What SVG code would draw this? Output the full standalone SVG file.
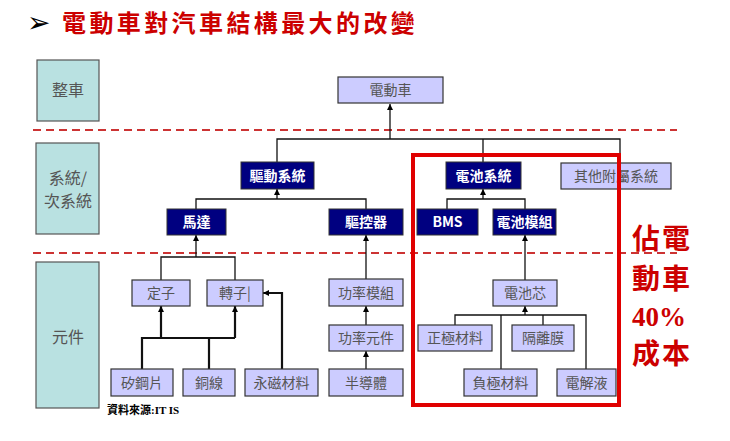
<svg xmlns="http://www.w3.org/2000/svg" width="730" height="441" viewBox="0 0 730 441">
<defs>
<marker id="ah" viewBox="0 0 10 10" refX="10" refY="5" markerWidth="6" markerHeight="6" markerUnits="userSpaceOnUse" orient="auto">
<path d="M0,0 L10,5 L0,10 Z" fill="#000"/>
</marker>
<style>
.lbl rect{fill:#b9e1e1;stroke:#555;stroke-width:1.2}
.lbl text{font-family:"Noto Sans CJK TC","Noto Sans CJK SC",sans-serif;font-size:16px;fill:#555;text-anchor:middle}
.lt rect{fill:#ccccff;stroke:#333;stroke-width:1.2}
.lt text{font-family:"Noto Sans CJK TC","Noto Sans CJK SC",sans-serif;font-size:14px;fill:#555;text-anchor:middle}
.dk rect{fill:#000080;stroke:#333;stroke-width:1}
.dk text{font-family:"Noto Sans CJK TC","Noto Sans CJK SC",sans-serif;font-size:14px;font-weight:bold;fill:#fff;text-anchor:middle}
.dash{stroke:#cc3333;stroke-width:2;stroke-dasharray:8 5;fill:none}
.c{stroke:#111;stroke-width:1.3;fill:none}
.ct{stroke:#111;stroke-width:2.2;fill:none}
.red{font-family:"Noto Sans CJK TC","Noto Sans CJK SC",sans-serif;font-weight:bold;fill:#cc0000}
</style>
</defs>
<rect width="730" height="441" fill="#fff"/>

<!-- title -->
<text x="27" y="32" font-family="DejaVu Sans, sans-serif" font-size="28" fill="#000">➢</text>
<text class="red" x="62" y="32" font-size="24" letter-spacing="3.4">電動車對汽車結構最大的改變</text>

<!-- dashed separators -->
<line class="dash" x1="33" y1="130" x2="677" y2="130"/>
<line class="dash" x1="33" y1="253" x2="677" y2="253"/>

<!-- level labels -->
<g id="lbl-zhengche" class="lbl"><rect x="37" y="60" width="62" height="61"/><text x="68" y="96">整車</text></g>
<g id="lbl-xitong" class="lbl"><rect x="36" y="143" width="63" height="91"/><text x="68" y="184" font-size="14">系統/</text><text x="68" y="207" font-size="14">次系統</text></g>
<g id="lbl-yuanjian" class="lbl"><rect x="36" y="262" width="63" height="146"/><text x="68" y="343">元件</text></g>

<!-- connectors -->
<g id="connectors">
<path class="c" d="M390,139 V104" marker-end="url(#ah)"/>
<path class="c" d="M277,162 V139 H620 V163 M483,139 V162"/>
<path class="c" d="M277,199 V189" marker-end="url(#ah)"/>
<path class="c" d="M196,209 V199 H366 V209"/>
<path class="c" d="M483,199 V189" marker-end="url(#ah)"/>
<path class="c" d="M447,209 V199 H525 V209"/>
<path class="c" d="M196,257 V235" marker-end="url(#ah)"/>
<path class="c" d="M161,280 V257 H235 V280"/>
<path class="c" d="M366,279 V235" marker-end="url(#ah)"/>
<path class="c" d="M366,325 V306" marker-end="url(#ah)"/>
<path class="c" d="M366,369 V351" marker-end="url(#ah)"/>
<path class="ct" d="M161,338 V306" marker-end="url(#ah)"/>
<path class="ct" d="M235,338 V306" marker-end="url(#ah)"/>
<path class="ct" d="M142,369 V338 H235 M209,369 V338"/>
<path class="ct" d="M282,369 V293 H263" marker-end="url(#ah)"/>
<path class="c" d="M525,280 V235" marker-end="url(#ah)"/>
<path class="c" d="M525,315 V306" marker-end="url(#ah)"/>
<path class="c" d="M455,325 V315 H586 V369 M501,315 V369 M543,315 V325"/>
</g>

<!-- nodes -->
<g id="n-ev" class="lt"><rect x="338" y="77" width="105" height="26"/><text x="390.5" y="95">電動車</text></g>
<g id="n-drive" class="dk"><rect x="241" y="162" width="73" height="27"/><text x="277.5" y="180.5">驅動系統</text></g>
<g id="n-battsys" class="dk"><rect x="446" y="162" width="75" height="27"/><text x="483.5" y="180.5">電池系統</text></g>
<g id="n-other" class="lt"><rect x="561" y="163" width="110" height="26"/><text x="616" y="181">其他附屬系統</text></g>
<g id="n-motor" class="dk"><rect x="167" y="209" width="59" height="26"/><text x="196.5" y="227">馬達</text></g>
<g id="n-ctrl" class="dk"><rect x="329" y="209" width="74" height="26"/><text x="366" y="227">驅控器</text></g>
<g id="n-bms" class="dk"><rect x="417" y="209" width="61" height="26"/><text x="447.5" y="227" font-family="Liberation Serif, serif" font-size="13">BMS</text></g>
<g id="n-module" class="dk"><rect x="493" y="209" width="63" height="26"/><text x="524.5" y="227">電池模組</text></g>

<g id="n-stator" class="lt"><rect x="132" y="280" width="58" height="26"/><text x="161" y="298">定子</text></g>
<g id="n-rotor" class="lt"><rect x="207" y="280" width="56" height="26"/><text x="235" y="298">轉子|</text></g>
<g id="n-pmod" class="lt"><rect x="329" y="279" width="74" height="27"/><text x="366" y="297.5">功率模組</text></g>
<g id="n-pdev" class="lt"><rect x="329" y="325" width="74" height="26"/><text x="366" y="343">功率元件</text></g>
<g id="n-semi" class="lt"><rect x="329" y="369" width="74" height="27"/><text x="366" y="387.5">半導體</text></g>
<g id="n-steel" class="lt"><rect x="111" y="369" width="62" height="27"/><text x="142" y="387.5">矽鋼片</text></g>
<g id="n-copper" class="lt"><rect x="183" y="369" width="52" height="27"/><text x="209" y="387.5">銅線</text></g>
<g id="n-magnet" class="lt"><rect x="245" y="369" width="73" height="27"/><text x="281.5" y="387.5">永磁材料</text></g>

<g id="n-cell" class="lt"><rect x="493" y="280" width="64" height="26"/><text x="525" y="298">電池芯</text></g>
<g id="n-cathode" class="lt"><rect x="418" y="325" width="74" height="26"/><text x="455" y="343">正極材料</text></g>
<g id="n-sep" class="lt"><rect x="512" y="325" width="62" height="26"/><text x="543" y="343">隔離膜</text></g>
<g id="n-anode" class="lt"><rect x="464" y="369" width="73" height="27"/><text x="500.5" y="387.5">負極材料</text></g>
<g id="n-elec" class="lt"><rect x="557" y="369" width="59" height="27"/><text x="586.5" y="387.5">電解液</text></g>

<!-- red highlight box -->
<rect x="413" y="155" width="206" height="250" fill="none" stroke="#e00000" stroke-width="4"/>

<!-- side note -->
<g id="note">
<text class="red" x="632" y="249" font-size="28" letter-spacing="2">佔電</text>
<text class="red" x="632" y="289" font-size="28" letter-spacing="2">動車</text>
<text x="632" y="326" font-family="Liberation Serif, serif" font-weight="bold" font-size="27" fill="#cc0000">40%</text>
<text class="red" x="632" y="364" font-size="28" letter-spacing="2">成本</text>
</g>

<text x="107" y="414" font-family="Liberation Serif, 'Noto Sans CJK TC', serif" font-weight="bold" font-size="11" fill="#000">資料來源:IT IS</text>
</svg>
